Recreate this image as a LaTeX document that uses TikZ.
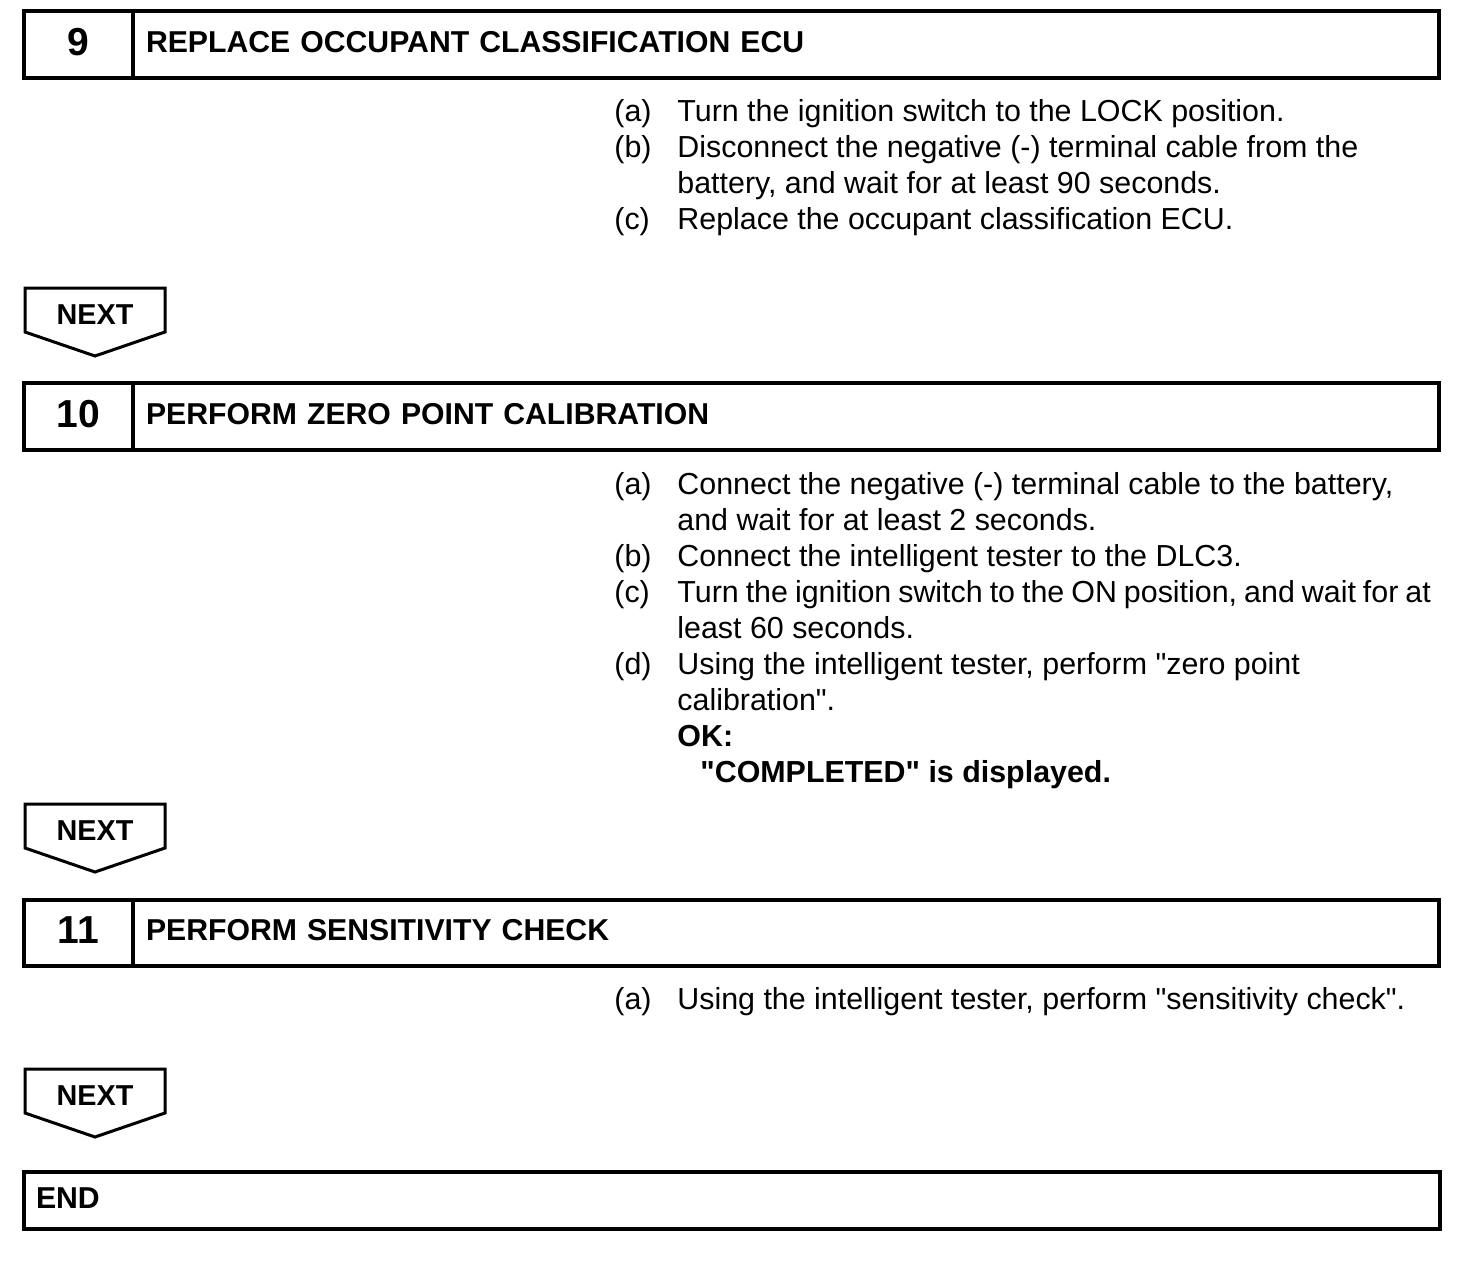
\documentclass[tikz,border=0pt]{standalone}
\usepackage{fontspec}
\setmainfont{Liberation Sans}
\usetikzlibrary{positioning}

% NEXT sign: #1 node name, #2 top edge (px)
\newcommand{\nextsign}[2]{%
  \draw[nextline] (25,#2) -- (165,#2) -- (165,#2+44) -- (95,#2+68) -- (25,#2+44) -- cycle;
  \node[nexttext] (#1) at (95,#2+27) {NEXT};
}
% two text lines, baseline at the first one
\newcommand{\twolines}[2]{\vtop{\hbox{\strut#1}\hbox{\strut#2}}}
\newcommand{\qq}{\textquotedbl}

\begin{document}
\begin{tikzpicture}[x=0.5pt, y=-0.5pt,
  numbox/.style={draw, line width=2pt, outer sep=0pt, inner sep=0pt, minimum width=54.5pt, minimum height=33.4pt, text depth=3pt, font=\fontsize{19.5}{22}\selectfont\bfseries},
  titlebox/.style={draw, line width=2pt, outer sep=0pt, inner xsep=6.5pt, inner ysep=0pt, minimum height=33.4pt, text width=640pt, text depth=3pt, align=left, font=\fontsize{15.1}{18}\selectfont\bfseries},
  endbox/.style={draw, line width=2pt, outer sep=0pt, inner xsep=6pt, inner ysep=0pt, minimum height=28.5pt, text width=696pt, text depth=2pt, align=left, font=\fontsize{15.1}{18}\selectfont\bfseries},
  itemlbl/.style={anchor=base west, inner sep=0pt, font=\fontsize{15.2}{18}\selectfont},
  itemtxt/.style={anchor=base west, inner sep=0pt, font=\fontsize{15.2}{18}\selectfont},
  nextline/.style={line width=1.5pt, line join=miter},
  nexttext/.style={inner sep=0pt, font=\fontsize{14.4}{16}\selectfont\bfseries}
]
\useasboundingbox (0,0) rectangle (1472,1268);

% step 9
\node[numbox] (num9) at (78.5,44.8) {9};
\node[titlebox, right=0pt of num9] (title9) {REPLACE OCCUPANT CLASSIFICATION ECU};
\node[itemlbl] (lbl9a) at (614,121) {(a)};
\node[itemtxt] (txt9a) at (677,121) {Turn the ignition switch to the LOCK position.};
\node[itemlbl] (lbl9b) at (614,157) {(b)};
\node[itemtxt] (txt9b) at (677,157) {\twolines{Disconnect the negative (-) terminal cable from the}{battery, and wait for at least 90 seconds.}};
\node[itemlbl] (lbl9c) at (614,229) {(c)};
\node[itemtxt] (txt9c) at (677,229) {Replace the occupant classification ECU.};

\nextsign{next1}{288}

% step 10
\node[numbox] (num10) at (78.5,416.8) {10};
\node[titlebox, right=0pt of num10] (title10) {PERFORM ZERO POINT CALIBRATION};
\node[itemlbl] (lbl10a) at (614,494) {(a)};
\node[itemtxt] (txt10a) at (677,494) {\twolines{Connect the negative (-) terminal cable to the battery,}{and wait for at least 2 seconds.}};
\node[itemlbl] (lbl10b) at (614,566) {(b)};
\node[itemtxt] (txt10b) at (677,566) {Connect the intelligent tester to the DLC3.};
\node[itemlbl] (lbl10c) at (614,602) {(c)};
\node[itemtxt] (txt10c) at (677,602) {\twolines{\spaceskip=3.5pt Turn the ignition switch to the ON position, and wait for at}{least 60 seconds.}};
\node[itemlbl] (lbl10d) at (614,674) {(d)};
\node[itemtxt] (txt10d) at (677,674) {\twolines{Using the intelligent tester, perform \qq zero point}{calibration\qq.}};
\node[itemtxt, font=\fontsize{15.2}{18}\selectfont\bfseries] (ok10) at (677,746) {OK:};
\node[itemtxt, font=\fontsize{15.2}{18}\selectfont\bfseries] (res10) at (700,782) {\qq COMPLETED\qq{} is displayed.};

\nextsign{next2}{804}

% step 11
\node[numbox] (num11) at (78.5,933) {11};
\node[titlebox, right=0pt of num11] (title11) {PERFORM SENSITIVITY CHECK};
\node[itemlbl] (lbl11a) at (614,1009) {(a)};
\node[itemtxt] (txt11a) at (677,1009) {Using the intelligent tester, perform \qq sensitivity check\qq.};

\nextsign{next3}{1069}

% end
\node[endbox] (end) at (732,1200.5) {END};

\end{tikzpicture}
\end{document}
